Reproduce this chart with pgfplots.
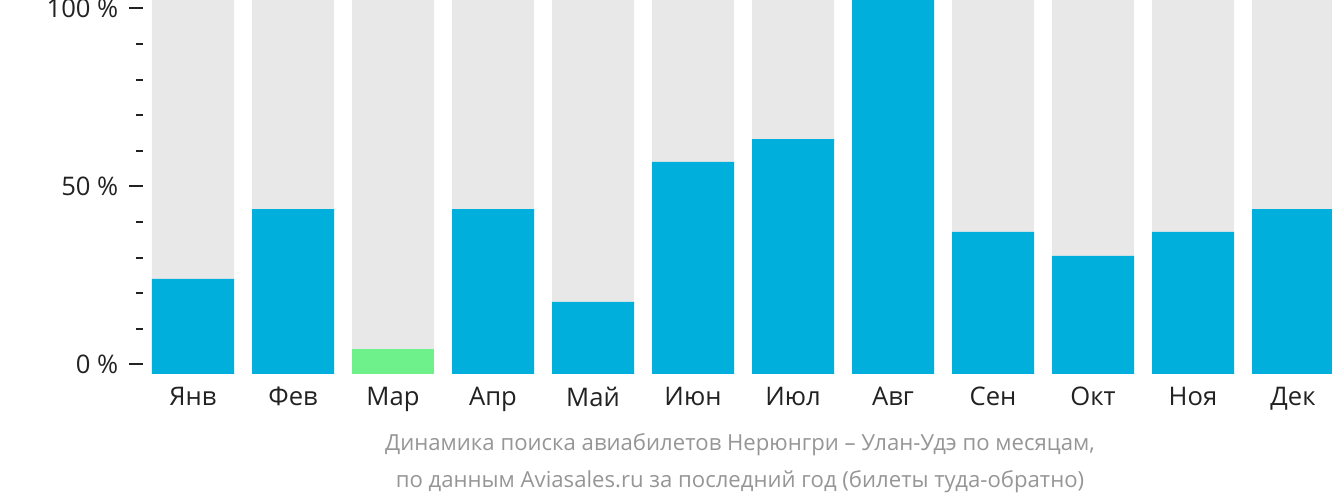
\documentclass[border=0pt]{standalone}
\usepackage{fontspec}
\setmainfont{Open Sans}
\usepackage{pgfplots}
\pgfplotsset{compat=1.18}
\definecolor{barblue}{RGB}{0,175,219}
\definecolor{bargreen}{RGB}{110,240,138}
\definecolor{bargrey}{RGB}{232,232,232}
\definecolor{txt}{RGB}{34,34,34}
\definecolor{capgrey}{RGB}{150,150,150}
\begin{document}
\begin{tikzpicture}
\useasboundingbox (-107.25pt,-96pt) rectangle (891.75pt,280.5pt);
\begin{axis}[
  at={(0pt,0pt)}, anchor=south west,
  scale only axis,
  width=891.75pt, height=280.5pt,
  xmin=-0.5, xmax=11.39,
  ymin=0, ymax=100,
  clip=true,
  axis line style={draw=none},
  xtick={0,1,2,3,4,5,6,7,8,9,10,11},
  xticklabels={Янв,Фев,Мар,Апр,Май,Июн,Июл,Авг,Сен,Окт,Ноя,Дек},
  xtick style={draw=none},
  xticklabel style={font=\fontsize{19.2pt}{21pt}\selectfont, text=txt, yshift=4pt},
  ytick={2.54,50.16,97.78},
  yticklabels={0 \%,50 \%,100 \%},
  minor ytick={12.06,21.59,31.11,40.64,59.69,69.21,78.73,88.26},
  ytick pos=left,
  tick align=outside,
  major tick length=10.5pt,
  minor tick length=5.25pt,
  ytick style={draw=txt, line width=1.5pt},
  yticklabel style={font=\fontsize{19.2pt}{21pt}\selectfont, text=txt, xshift=-4.5pt},
  ybar, bar width=61.5pt,
]
\addplot[fill=bargrey, draw=none, bar shift=0pt] coordinates {
  (0,100) (1,100) (2,100) (3,100) (4,100) (5,100)
  (6,100) (7,100) (8,100) (9,100) (10,100) (11,100)};
\addplot[fill=barblue, draw=none, bar shift=0pt] coordinates {
  (0,25.4) (1,44.1) (3,44.1) (4,19.3) (5,56.7)
  (6,62.8) (7,100) (8,38.0) (9,31.6) (10,38.0) (11,44.1)};
\addplot[fill=bargreen, draw=none, bar shift=0pt] coordinates {
  (2,6.7)};
\end{axis}
\node[text=capgrey, font=\fontsize{16.6pt}{19pt}\selectfont] at (447.75pt,-53.25pt) {Динамика поиска авиабилетов Нерюнгри – Улан-Удэ по месяцам,};
\node[text=capgrey, font=\fontsize{16.6pt}{19pt}\selectfont] at (447.75pt,-81pt) {по данным Aviasales.ru за последний год (билеты туда-обратно)};
\end{tikzpicture}
\end{document}
